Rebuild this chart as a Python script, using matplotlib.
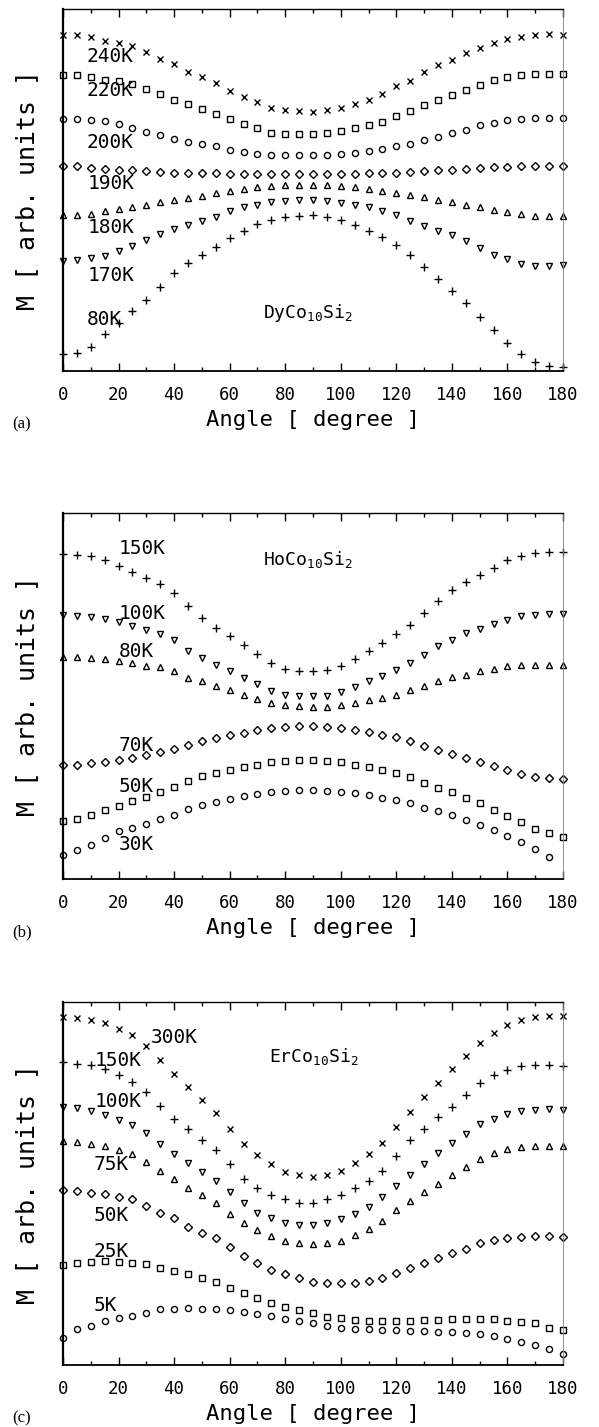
import numpy as np
import matplotlib.pyplot as plt

plt.rcParams['font.family'] = ['DejaVu Sans Mono']

angle = np.arange(0, 181, 5)

# (a) DyCo10Si2, M in arbitrary units
dy_240 = [1005, 1005, 998, 988, 980, 972, 955, 932, 918, 895, 880, 862, 838, 820, 805, 788, 780, 777, 775,
          780, 788, 800, 812, 830, 852, 868, 895, 915, 930, 952, 967, 980, 993, 1000, 1005, 1007, 1005]
dy_220 = [885, 885, 880, 872, 868, 860, 845, 828, 812, 798, 785, 768, 754, 740, 728, 713, 710, 710, 710,
          713, 718, 727, 735, 745, 763, 778, 797, 812, 827, 842, 855, 870, 880, 885, 888, 888, 888]
dy_200 = [755, 755, 752, 747, 740, 728, 715, 705, 695, 685, 678, 672, 662, 655, 650, 647, 647, 647, 647,
          647, 650, 652, 657, 663, 672, 680, 690, 700, 712, 722, 735, 743, 752, 755, 758, 758, 758]
dy_190 = [612, 612, 608, 604, 602, 600, 597, 595, 593, 592, 591, 591, 590, 590, 590, 590, 590, 590, 590,
          590, 590, 590, 591, 592, 593, 595, 597, 600, 602, 605, 608, 610, 611, 612, 612, 612, 612]
dy_180 = [467, 467, 470, 478, 485, 490, 498, 505, 513, 518, 525, 532, 540, 545, 550, 552, 555, 557, 557,
          555, 552, 550, 545, 540, 533, 528, 520, 513, 507, 498, 490, 482, 475, 470, 465, 465, 465]
dy_170 = [330, 332, 337, 345, 358, 373, 392, 410, 425, 437, 450, 462, 478, 490, 498, 505, 510, 512, 512,
          510, 503, 498, 490, 478, 467, 450, 435, 420, 408, 388, 368, 347, 335, 320, 315, 315, 318]
dy_80 = [52, 55, 72, 110, 145, 180, 212, 252, 292, 322, 348, 372, 397, 420, 440, 453, 460, 465, 467,
         462, 452, 437, 420, 402, 377, 348, 310, 275, 240, 202, 162, 122, 85, 52, 27, 15, 13]

# (b) HoCo10Si2
ho_150 = [976, 973, 968, 958, 940, 921, 903, 886, 858, 820, 783, 753, 728, 703, 676, 648, 631, 623, 623,
          626, 638, 661, 683, 708, 735, 761, 798, 835, 868, 891, 913, 933, 956, 970, 978, 981, 980]
ho_100 = [793, 790, 785, 781, 770, 760, 748, 736, 718, 683, 663, 643, 623, 603, 585, 565, 553, 548, 548,
          550, 561, 575, 593, 610, 628, 648, 673, 698, 718, 738, 750, 765, 778, 788, 791, 796, 796]
ho_80 = [666, 666, 663, 660, 655, 648, 640, 636, 623, 603, 593, 578, 566, 553, 540, 528, 521, 518, 516,
         516, 521, 528, 538, 543, 553, 566, 580, 593, 606, 613, 623, 631, 638, 641, 641, 643, 643]
ho_70 = [343, 343, 348, 351, 356, 363, 371, 380, 390, 403, 413, 423, 431, 438, 448, 453, 456, 460, 458,
         456, 453, 448, 441, 431, 425, 413, 400, 386, 376, 363, 351, 340, 326, 315, 306, 303, 300]
ho_50 = [173, 180, 191, 208, 220, 233, 245, 260, 275, 293, 308, 318, 328, 335, 343, 350, 353, 356, 356,
         355, 350, 343, 336, 326, 318, 305, 288, 273, 260, 243, 228, 208, 188, 170, 150, 138, 125]
ho_30 = [73, 86, 103, 123, 143, 153, 165, 180, 193, 210, 221, 231, 241, 250, 256, 261, 265, 266, 266,
         265, 261, 258, 251, 243, 238, 228, 213, 203, 191, 178, 163, 148, 128, 111, 91, 65, np.nan]

# (c) ErCo10Si2
er_300 = [1045, 1043, 1037, 1027, 1010, 990, 957, 917, 875, 835, 797, 757, 710, 665, 630, 603, 580, 570, 565,
          570, 583, 607, 633, 667, 715, 760, 805, 848, 890, 928, 967, 998, 1020, 1037, 1045, 1047, 1047]
er_150 = [910, 905, 900, 890, 870, 850, 820, 777, 740, 710, 675, 645, 603, 560, 532, 510, 497, 487, 487,
          497, 510, 532, 553, 583, 628, 677, 710, 745, 775, 810, 847, 872, 887, 897, 902, 900, 897]
er_100 = [775, 772, 762, 750, 737, 722, 697, 665, 635, 607, 580, 553, 520, 485, 457, 442, 427, 420, 420,
          425, 437, 453, 475, 505, 538, 572, 605, 637, 667, 695, 723, 738, 753, 763, 767, 768, 765]
er_75 = [673, 670, 665, 657, 645, 635, 610, 583, 558, 532, 510, 487, 453, 425, 405, 387, 373, 365, 363,
         365, 373, 390, 407, 432, 465, 493, 518, 545, 572, 595, 618, 637, 648, 655, 657, 658, 658]
er_50 = [525, 523, 517, 512, 505, 497, 477, 455, 440, 415, 397, 380, 353, 327, 307, 285, 272, 260, 250,
         245, 245, 247, 252, 260, 275, 290, 305, 320, 335, 348, 365, 375, 382, 385, 387, 387, 383]
er_25 = [300, 307, 310, 312, 310, 307, 302, 290, 283, 272, 260, 250, 230, 215, 202, 187, 175, 165, 155,
         145, 140, 135, 133, 133, 133, 133, 135, 135, 138, 138, 138, 137, 133, 128, 125, 112, 105]
er_5 = [80, 107, 118, 132, 140, 147, 157, 167, 167, 170, 168, 167, 165, 160, 153, 147, 138, 132, 125,
        118, 112, 108, 107, 105, 105, 103, 103, 100, 100, 95, 92, 87, 78, 68, 60, 47, 32]

panels = [
    dict(tag='(a)', compound='DyCo$\\mathregular{_{10}}$Si$\\mathregular{_2}$', comp_pos=(72, 175), ymax=1083,
         series=[('240K', dy_240, 'x', (8.6, 940)), ('220K', dy_220, 's', (8.6, 840)),
                 ('200K', dy_200, 'o', (8.6, 685)), ('190K', dy_190, 'D', (9, 562)),
                 ('180K', dy_180, '^', (9, 430)), ('170K', dy_170, 'v', (9, 285)),
                 ('80K', dy_80, '+', (8.6, 155))]),
    dict(tag='(b)', compound='HoCo$\\mathregular{_{10}}$Si$\\mathregular{_2}$', comp_pos=(72, 958), ymax=1098,
         series=[('150K', ho_150, '+', (20, 993)), ('100K', ho_100, 'v', (20, 796)),
                 ('80K', ho_80, '^', (20, 683)), ('70K', ho_70, 'D', (20, 400)),
                 ('50K', ho_50, 's', (20, 278)), ('30K', ho_30, 'o', (20, 103))]),
    dict(tag='(c)', compound='ErCo$\\mathregular{_{10}}$Si$\\mathregular{_2}$', comp_pos=(74, 925), ymax=1090,
         series=[('300K', er_300, 'x', (31.6, 983)), ('150K', er_150, '+', (11.3, 915)),
                 ('100K', er_100, 'v', (11.5, 790)), ('75K', er_75, '^', (11, 603)),
                 ('50K', er_50, 'D', (11, 450)), ('25K', er_25, 's', (11, 340)),
                 ('5K', er_5, 'o', (11, 180))]),
]

msize = {'x': 4, 's': 3.8, 'o': 4.4, 'D': 3.6, '^': 5, 'v': 5, '+': 5.5}

W, H = 599, 1427
boxes = [(9, 371), (513, 879), (1002, 1365)]  # top/bottom pixel rows

fig = plt.figure(figsize=(W / 100, H / 100), dpi=100)

for p, (top, bot) in zip(panels, boxes):
    ax = fig.add_axes([63 / W, 1 - bot / H, 500 / W, (bot - top) / H])
    for name, vals, mk, pos in p['series']:
        ax.plot(angle, vals, linestyle='none', marker=mk, markersize=msize[mk],
                markerfacecolor='none', markeredgecolor='black', markeredgewidth=1.0, clip_on=False)
        ax.text(pos[0], pos[1], name, fontsize=14, va='center', ha='left')
    ax.text(p['comp_pos'][0], p['comp_pos'][1], p['compound'], fontsize=13, va='center', ha='left')

    ax.set_xlim(0, 180)
    ax.set_ylim(0, p['ymax'])
    ax.set_xticks(np.arange(0, 181, 20))
    ax.set_xticks(np.arange(0, 181, 10), minor=True)
    ax.set_yticks([])
    ax.tick_params(axis='x', which='both', direction='in', top=True, bottom=True,
                   labelsize=12.5, pad=11, width=1.0)
    ax.tick_params(axis='x', which='major', length=6)
    ax.tick_params(axis='x', which='minor', length=3)
    ax.spines['left'].set_linewidth(1.6)
    ax.spines['bottom'].set_linewidth(1.3)
    ax.spines['top'].set_linewidth(1.0)
    ax.spines['right'].set_linewidth(0.6)
    ax.spines['right'].set_color('0.5')
    ax.set_xlabel('Angle [ degree ]', fontsize=16, labelpad=4)
    ax.set_ylabel('M [ arb. units ]', fontsize=18, labelpad=17)
    fig.text(12 / W, 1 - (bot + 53) / H, p['tag'], fontsize=12, family='Liberation Serif', va='center')

fig.savefig('out.png', dpi=100)
